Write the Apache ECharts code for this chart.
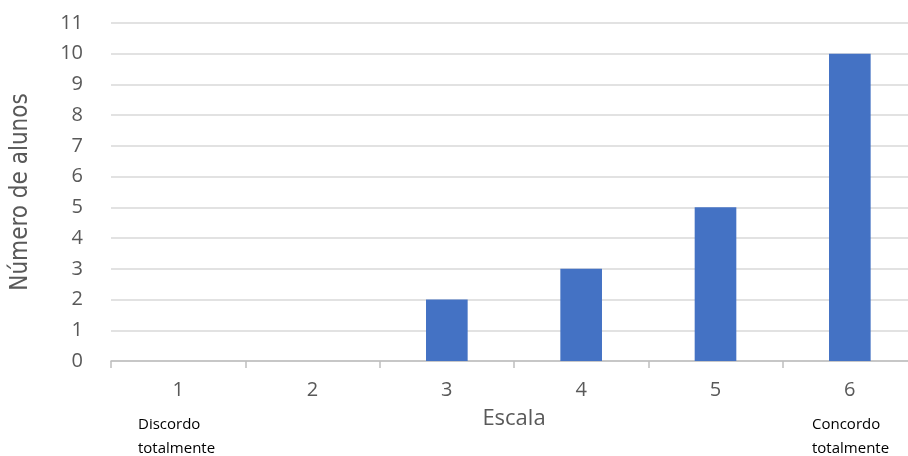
<!DOCTYPE html>
<html>
<head>
<meta charset="utf-8">
<script src="https://cdn.jsdelivr.net/npm/echarts@6/dist/echarts.min.js"></script>
<style>html,body{margin:0;padding:0;background:#fff}#c{width:908px;height:456px}</style>
</head>
<body>
<div id="c"></div>
<script>
const categories = ['1', '2', '3', '4', '5', '6'];
const values = [0, 0, 2, 3, 5, 10];
const yTicks = { min: 0, max: 11, interval: 1 };
const xTitle = 'Escala';
const yTitle = 'Número de alunos';
const leftNote = ['Discordo', 'totalmente'];
const rightNote = ['Concordo', 'totalmente'];

const chart = echarts.init(document.getElementById('c'));
const labelFont = '"Open Sans", "Liberation Sans", sans-serif';
chart.setOption({
  animation: false,
  grid: { left: 111, top: 23, width: 806, bottom: 95, containLabel: false, outerBoundsMode: 'none' },
  xAxis: {
    type: 'category',
    data: categories,
    boundaryGap: true,
    name: xTitle,
    nameLocation: 'middle',
    nameGap: 47,
    nameTextStyle: { fontSize: 22, color: '#595959', fontFamily: labelFont },
    axisLine: { lineStyle: { color: '#bfbfbf', width: 1.5 } },
    axisTick: { show: true, length: 7, lineStyle: { color: '#bfbfbf', width: 1.5 } },
    axisLabel: { fontSize: 20, color: '#595959', margin: 19, fontFamily: labelFont }
  },
  yAxis: {
    type: 'value',
    min: yTicks.min, max: yTicks.max, interval: yTicks.interval,
    name: yTitle,
    nameLocation: 'middle',
    nameGap: 78,
    nameRotate: 90,
    nameTextStyle: { fontSize: 24, color: '#595959', fontFamily: '"Liberation Sans Narrow", "DejaVu Sans Condensed", sans-serif' },
    axisLine: { show: false },
    axisTick: { show: false },
    splitLine: { lineStyle: { color: '#d9d9d9', width: 1.5 } },
    axisLabel: { fontSize: 20, color: '#595959', margin: 28, fontFamily: labelFont }
  },
  series: [{
    type: 'bar',
    data: values,
    barWidth: '31%',
    itemStyle: { color: '#4472c4' }
  }],
  graphic: [
    { type: 'text', left: 138, top: 413, style: { text: leftNote.join('\n'), font: '15px "Open Sans", "Liberation Sans", sans-serif', fill: '#000', lineHeight: 24 } },
    { type: 'text', left: 812, top: 413, style: { text: rightNote.join('\n'), font: '15px "Open Sans", "Liberation Sans", sans-serif', fill: '#000', lineHeight: 24 } }
  ]
});
</script>
</body>
</html>
